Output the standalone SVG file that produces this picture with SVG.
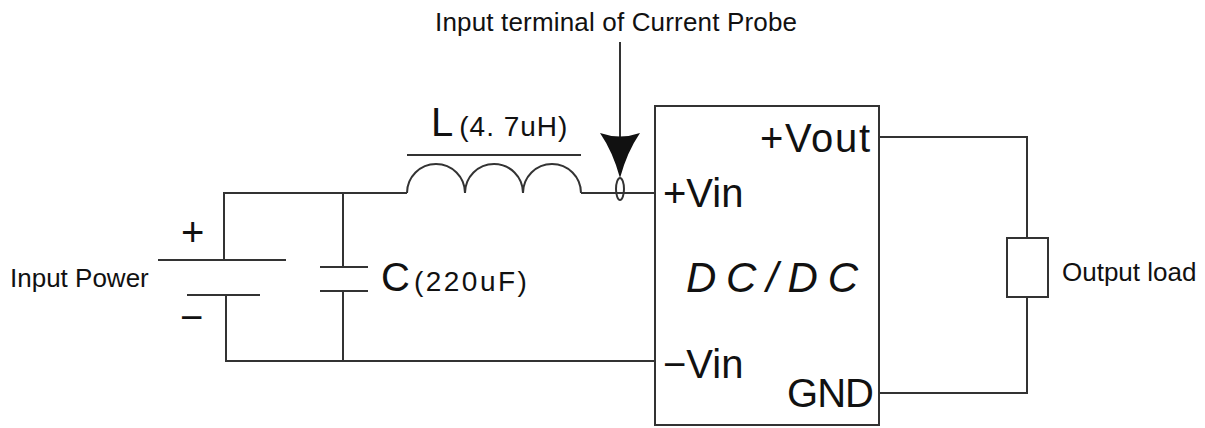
<svg xmlns="http://www.w3.org/2000/svg" width="1205" height="428" viewBox="0 0 1205 428">
<style>
.w{stroke:#333;stroke-width:2;fill:none}
.t{font-family:"Liberation Sans","Noto Sans CJK SC",sans-serif;fill:#111}
.big{font-size:40px}
.sm{font-size:28px}
.lab{font-size:26px}
</style>
<rect width="1205" height="428" fill="#fff"/>
<g id="connectors">
<polyline class="w" points="407,193 224,193 224,260"/>
<polyline class="w" points="226,295 226,361 655,361"/>
<line class="w" x1="343" y1="193" x2="343" y2="267"/>
<line class="w" x1="343" y1="291" x2="343" y2="361"/>
<line class="w" x1="581" y1="193" x2="655" y2="193"/>
<polyline class="w" points="879,137 1027,137 1027,238"/>
<polyline class="w" points="1027,297 1027,393 879,393"/>
</g>
<g id="title">
<text class="t lab" x="435" y="31" textLength="362">Input terminal of Current Probe</text>
</g>
<g id="battery">
<line class="w" x1="158" y1="260" x2="286" y2="260"/>
<line class="w" x1="187" y1="295" x2="260" y2="295"/>
<text class="t" x="181" y="246" font-size="40">+</text>
<text class="t" x="180" y="331" font-size="40">−</text>
<text class="t lab" x="10" y="287">Input Power</text>
</g>
<g id="capacitor">
<line class="w" x1="320" y1="267" x2="368" y2="267"/>
<line class="w" x1="320" y1="291" x2="368" y2="291"/>
<text class="t" x="381" y="291"><tspan class="big">C</tspan><tspan class="sm" dx="4" letter-spacing="2.5">(220uF)</tspan></text>
</g>
<g id="inductor">
<line class="w" x1="407" y1="155" x2="581" y2="155"/>
<path class="w" d="M407,193 A29,29 0 0 1 465,193 A29,29 0 0 1 523,193 A29,29 0 0 1 581,193"/>
<text class="t" x="431" y="136"><tspan class="big">L</tspan><tspan class="sm" dx="6" letter-spacing="1">(4. 7uH)</tspan></text>
</g>
<g id="probe">
<line class="w" x1="620" y1="42" x2="620" y2="138"/>
<path d="M600,133 Q620,140 640,133 Q627,152 620,178 Q613,152 600,133 Z" fill="#111"/>
<ellipse class="w" cx="620" cy="189" rx="4" ry="11"/>
</g>
<g id="dcdc">
<rect class="w" x="655" y="106" width="224" height="319"/>
<text class="t big" x="760" y="152" textLength="110">+Vout</text>
<text class="t big" x="663" y="207">+Vin</text>
<text class="t big" x="663" y="378">−Vin</text>
<text class="t big" x="787" y="407" textLength="87">GND</text>
<text class="t" x="686" y="292" font-size="42" font-style="italic" textLength="172">DC/DC</text>
</g>
<g id="load">
<rect class="w" x="1007" y="238" width="41" height="59"/>
<text class="t lab" x="1062" y="281">Output load</text>
</g>
</svg>
